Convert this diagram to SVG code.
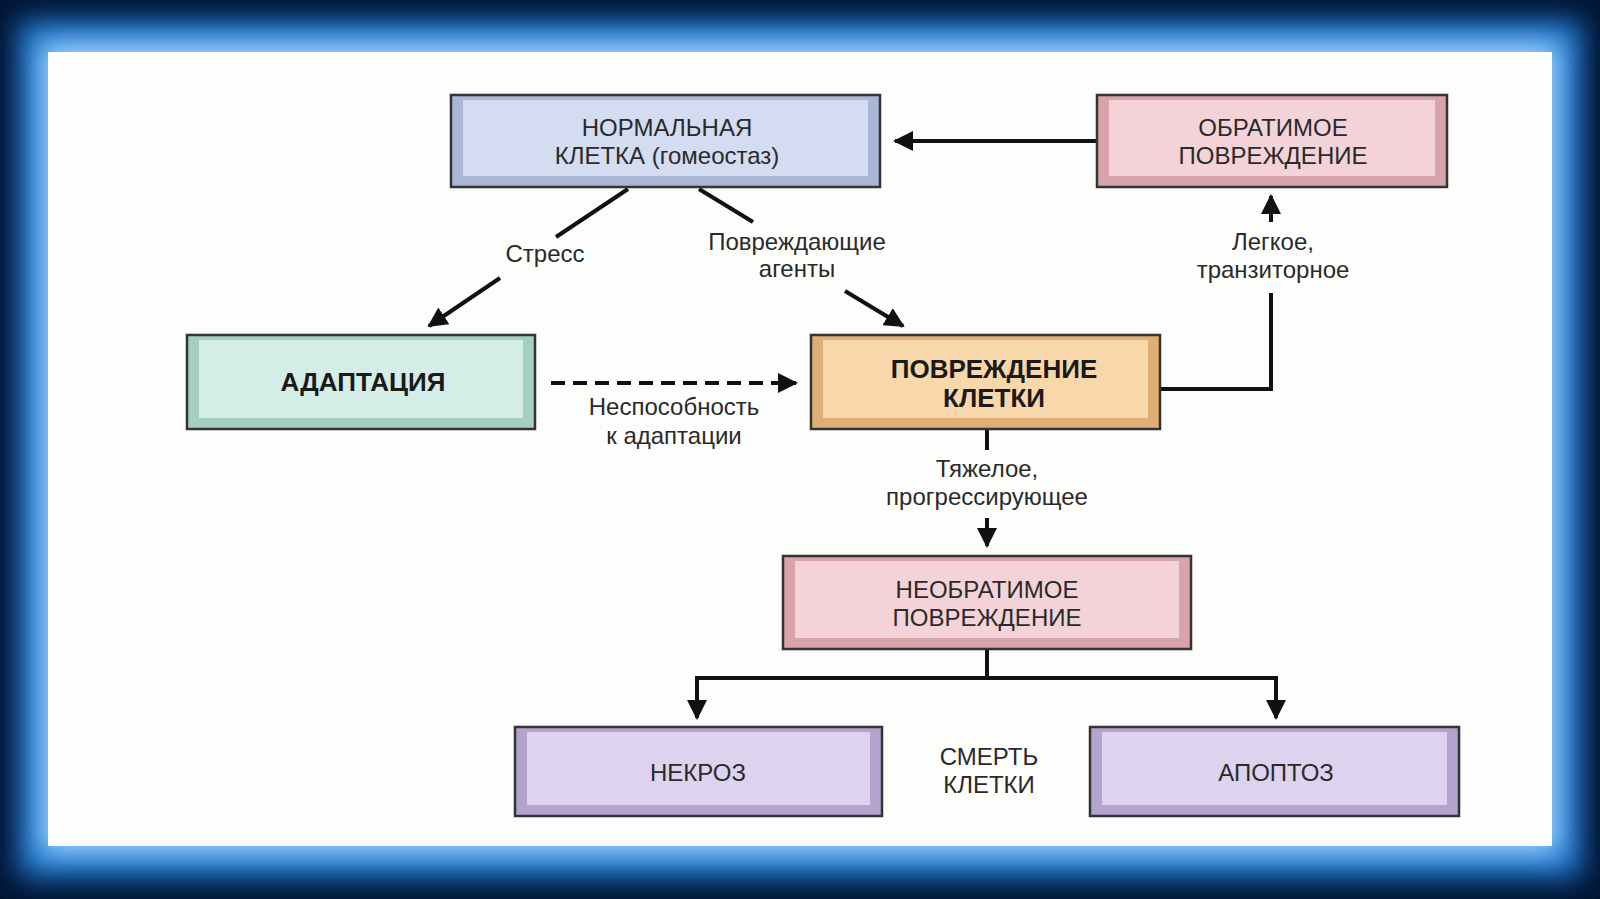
<svg xmlns="http://www.w3.org/2000/svg" width="1600" height="899" viewBox="0 0 1600 899">
<defs>
<style>
.t{font-family:"Liberation Sans",Arial,sans-serif;font-size:24px;fill:#2a2a2a;text-anchor:middle}
.b{font-weight:bold;font-size:26px;fill:#1a1a1a}
.c{stroke:#111;stroke-width:4;fill:none}
.box{stroke:#333;stroke-width:2.5}
</style>
<marker id="ah" viewBox="0 0 10 10" refX="9" refY="5" markerWidth="5" markerHeight="5" orient="auto"><path d="M0,0 L10,5 L0,10 Z" fill="#111"/></marker>
<filter id="bl"><feGaussianBlur stdDeviation="14"/></filter>
</defs>
<rect width="1600" height="899" fill="#021433"/>
<rect x="18" y="20" width="1564" height="858" fill="#1a78d0" filter="url(#bl)"/>
<rect x="40" y="42" width="1520" height="812" fill="#9fd3ff" filter="url(#bl)"/>
<rect x="48" y="52" width="1504" height="794" fill="#fdfdfb"/>
<g id="connectors">
<line class="c" x1="1097" y1="141" x2="895" y2="141" marker-end="url(#ah)"/>
<line class="c" x1="628" y1="189" x2="556" y2="237"/>
<line class="c" x1="500" y1="278" x2="429" y2="326" marker-end="url(#ah)"/>
<line class="c" x1="699" y1="189" x2="753" y2="222"/>
<line class="c" x1="845" y1="291" x2="903" y2="326" marker-end="url(#ah)"/>
<line class="c" x1="551" y1="383" x2="796" y2="383" stroke-dasharray="14,8" marker-end="url(#ah)"/>
<path class="c" d="M1160,389 H1271 V293"/>
<line class="c" x1="1271" y1="222" x2="1271" y2="196" marker-end="url(#ah)"/>
<line class="c" x1="987" y1="429" x2="987" y2="450"/>
<line class="c" x1="987" y1="518" x2="987" y2="546" marker-end="url(#ah)"/>
<path class="c" d="M987,649 V678 M697,678 H1276"/>
<line class="c" x1="697" y1="676" x2="697" y2="718" marker-end="url(#ah)"/>
<line class="c" x1="1276" y1="676" x2="1276" y2="718" marker-end="url(#ah)"/>
</g>
<g id="n-normal"><rect class="box" x="451" y="95" width="429" height="92" fill="#a9b6d6"/><rect x="463" y="100" width="405" height="76" fill="#d3dcf0"/>
<text class="t" x="667" y="136">НОРМАЛЬНАЯ</text><text class="t" x="667" y="164">КЛЕТКА (гомеостаз)</text></g>
<g id="n-reversible"><rect class="box" x="1097" y="95" width="350" height="92" fill="#d9a3ab"/><rect x="1109" y="100" width="326" height="76" fill="#f4d3d8"/>
<text class="t" x="1273" y="136">ОБРАТИМОЕ</text><text class="t" x="1273" y="164">ПОВРЕЖДЕНИЕ</text></g>
<g id="n-adapt"><rect class="box" x="187" y="335" width="348" height="94" fill="#a6cfc3"/><rect x="199" y="340" width="324" height="78" fill="#d4ede6"/>
<text class="t b" x="363" y="391">АДАПТАЦИЯ</text></g>
<g id="n-injury"><rect class="box" x="811" y="335" width="349" height="94" fill="#deae75"/><rect x="823" y="340" width="325" height="78" fill="#f8d7aa"/>
<text class="t b" x="994" y="378">ПОВРЕЖДЕНИЕ</text><text class="t b" x="994" y="407">КЛЕТКИ</text></g>
<g id="n-irreversible"><rect class="box" x="783" y="556" width="408" height="93" fill="#d9a3ab"/><rect x="795" y="561" width="384" height="77" fill="#f4d3d8"/>
<text class="t" x="987" y="598">НЕОБРАТИМОЕ</text><text class="t" x="987" y="626">ПОВРЕЖДЕНИЕ</text></g>
<g id="n-necrosis"><rect class="box" x="515" y="727" width="367" height="89" fill="#b4a3cf"/><rect x="527" y="732" width="343" height="73" fill="#ddd3ef"/>
<text class="t" x="698" y="781">НЕКРОЗ</text></g>
<g id="n-apoptosis"><rect class="box" x="1090" y="727" width="369" height="89" fill="#b4a3cf"/><rect x="1102" y="732" width="345" height="73" fill="#ddd3ef"/>
<text class="t" x="1276" y="781">АПОПТОЗ</text></g>
<g id="labels">
<text class="t" x="545" y="262">Стресс</text>
<text class="t" x="797" y="250">Повреждающие</text><text class="t" x="797" y="277">агенты</text>
<text class="t" x="1273" y="250">Легкое,</text><text class="t" x="1273" y="278">транзиторное</text>
<text class="t" x="674" y="415">Неспособность</text><text class="t" x="674" y="444">к адаптации</text>
<text class="t" x="987" y="477">Тяжелое,</text><text class="t" x="987" y="505">прогрессирующее</text>
<text class="t" x="989" y="765">СМЕРТЬ</text><text class="t" x="989" y="793">КЛЕТКИ</text>
</g>
</svg>
